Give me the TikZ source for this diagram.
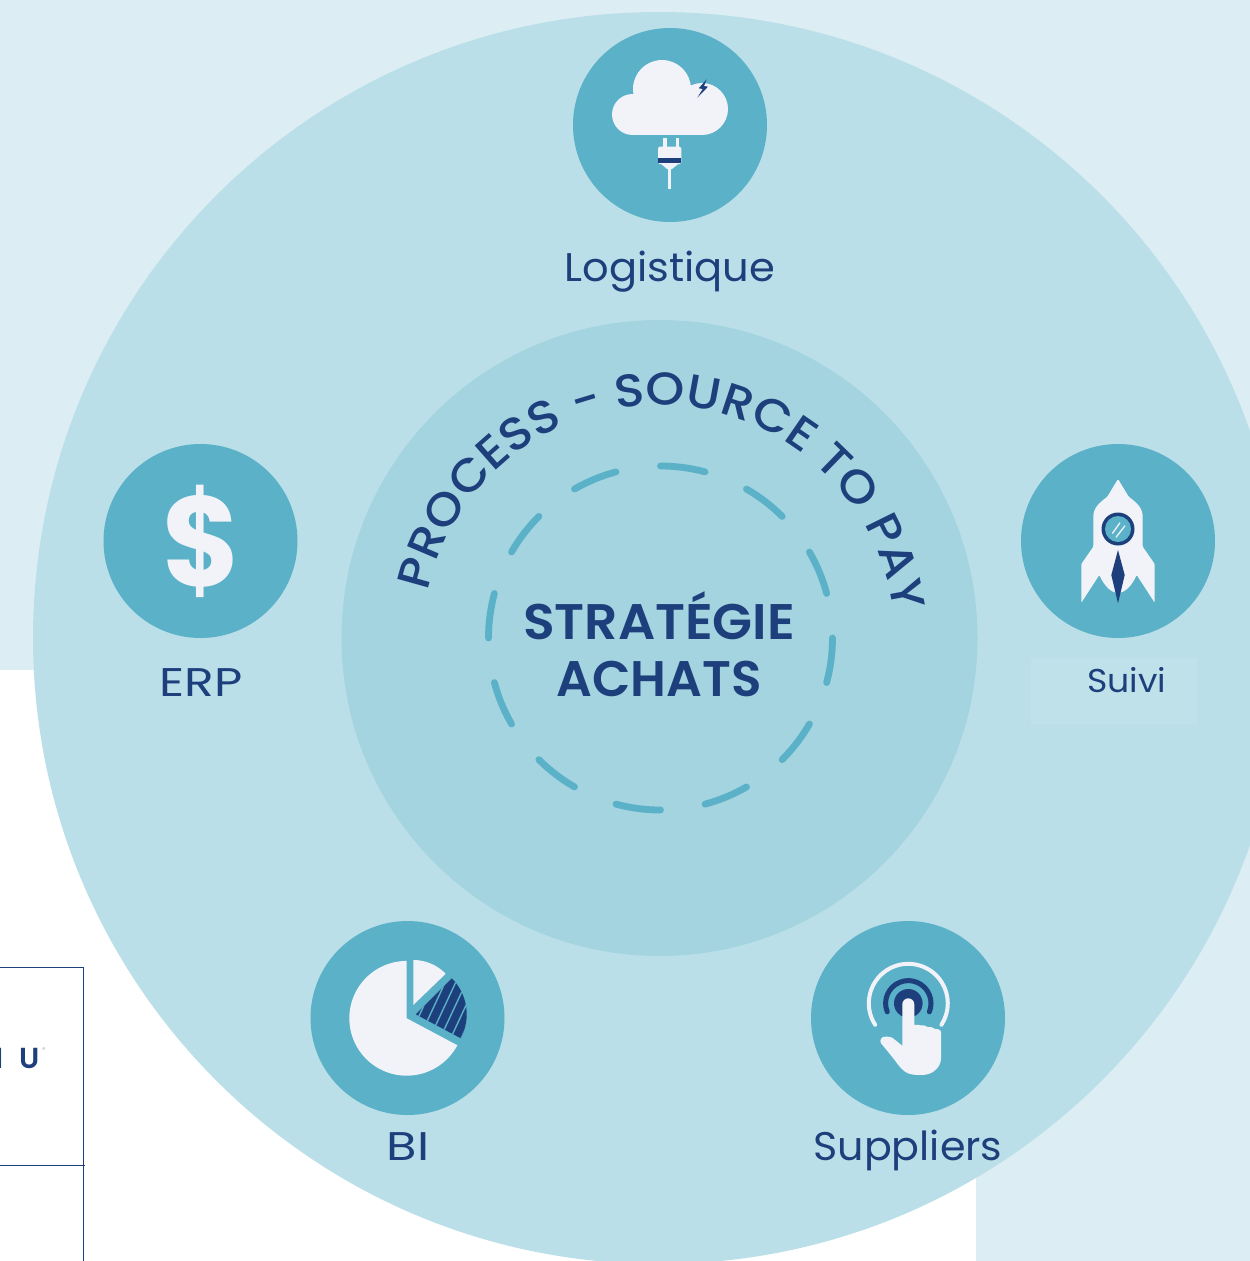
\documentclass[tikz,border=0pt]{standalone}
\usepackage{fontspec}
\usepackage{graphicx}
\setmainfont{Poppins}
\newfontfamily\semifont{Poppins SemiBold}
\newfontfamily\curvefont[FakeStretch=1.075]{Poppins Medium}
\usetikzlibrary{decorations.text}
\definecolor{bglight}{HTML}{DCEEF4}
\definecolor{ringout}{HTML}{BADFE8}
\definecolor{ringin}{HTML}{A3D4E0}
\definecolor{teal}{HTML}{5AB1C8}
\definecolor{navy}{HTML}{1D3F7C}
\definecolor{paper}{HTML}{F2F3F9}
\definecolor{suivibox}{HTML}{BFE2EA}
\tikzset{
  iconball/.style={circle,fill=teal,minimum size=194pt,inner sep=0pt},
  lbl/.style={text=navy,font=\fontsize{40}{44}\selectfont,inner sep=0pt,anchor=base},
  centre/.style={text=navy,font=\fontsize{50}{54}\selectfont\semifont,inner sep=0pt,anchor=base},
  whitefill/.style={fill=paper,draw=none},
  navyfill/.style={fill=navy,draw=none}
}
\begin{document}
\begin{tikzpicture}[x=1pt,y=-1pt]
\useasboundingbox (0,0) rectangle (1250,1261);
% background
\fill[bglight] (0,0) rectangle (1250,670);
\fill[bglight] (976,670) rectangle (1250,1261);
% left-hand frame
\draw[navy,line width=1.1pt] (0,967.5) -- (83.5,967.5);
\draw[navy,line width=1.1pt] (0,1165.5) -- (85,1165.5);
\draw[navy,line width=1.1pt] (83.5,967) -- (83.5,1261);
\node[anchor=base west,inner sep=0pt,text=navy,font=\fontsize{29}{32}\selectfont\semifont] (brand) at (-4.5,1068) {I\hspace{0.53em}U};
\node[anchor=center,inner sep=0pt,text=gray!60,font=\fontsize{7}{8}\selectfont] (reg) at (44,1050) {®};
% rings
\begin{scope}
\clip (0,0) rectangle (1250,1261);
\fill[ringout] (659,638) circle[radius=626];
\fill[ringin] (659.5,638) circle[radius=318];
\end{scope}
\fill[suivibox] (1031,658) rectangle (1197,724);
% dashes
\foreach \a in {0,30,...,330}
  \draw[teal,line width=6.8pt,line cap=round]
    ({660.5+172*cos(\a-90)},{638+172*sin(\a-90)})
    arc[start angle=\a-90,end angle=\a-75,radius=172];
% curved text
\path[decorate,decoration={text along path,text align=center,
   text={|\curvefont\fontsize{46}{50}\selectfont\color{navy}|PROCESS - SOURCE TO PAY}}]
   (659,641) ++(180:236) arc[start angle=180,end angle=365,radius=236];
% centre
\node[centre] (strat) at (659,639) {\scalebox{1.04}[1]{STRATÉGIE}};
\node[centre] (achats) at (659,696) {ACHATS};
% icon balls
\node[iconball] (log) at (670,125) {};
\node[iconball] (erp) at (200.5,541) {};
\node[iconball] (sui) at (1118,541) {};
\node[iconball] (bi) at (407.5,1018) {};
\node[iconball] (sup) at (908,1018) {};
% labels
\node[lbl] (logl) at (670,281) {\scalebox{1.04}[1]{Logistique}};
\node[lbl] (erpl) at (201,696) {\scalebox{1.22}[1]{ERP}};
\node[lbl,font=\fontsize{33}{38}\selectfont] (suil) at (1126.5,692) {\scalebox{1.05}[1]{Suivi}};
\node[lbl] (bil) at (408,1160) {\scalebox{1.24}[1]{BI}};
\node[lbl] (supl) at (908,1160) {\scalebox{1.03}[1]{Suppliers}};
% dollar
\node[text=paper,inner sep=0pt,font=\fontsize{128}{130}\selectfont\bfseries] (dollar) at (202,541) {\scalebox{0.93}[1]{\$}};
% cloud
\fill[whitefill] (662,89) circle[radius=29];
\fill[whitefill] (632.5,114.5) circle[radius=20.5];
\fill[whitefill] (702,109) circle[radius=26];
\fill[whitefill] (632.5,100) rectangle (702,135);
\fill[navyfill] (706.7,79.3)--(698.7,88.3)--(702.7,89)--(697.3,97.7)--(708,86.7)--(704,86)--cycle;
% plug
\fill[whitefill] (663.3,138) rectangle (666.7,148);
\fill[whitefill] (676,138) rectangle (678.7,148);
\fill[whitefill,rounded corners=1.5pt] (658,146.7) rectangle (681.3,164);
\fill[navyfill] (658,158.3) rectangle (681.3,162.7);
\fill[whitefill] (660,163)--(679.5,163)--(672,169)--(667,169)--cycle;
\fill[whitefill] (668,169) rectangle (671.3,189);
% rocket
\fill[whitefill,rounded corners=1pt]
  (1118,479) -- (1128.7,496.7) .. controls (1137,503) and (1142.7,508) .. (1142.7,518)
  -- (1142.7,546.7) -- (1154.7,564) -- (1154.7,602.7) -- (1136.7,575)
  .. controls (1132,585) and (1126,592) .. (1118,593)
  .. controls (1110,592) and (1104,585) .. (1099.3,575)
  -- (1081.3,602.7) -- (1081.3,564) -- (1093.3,546.7) -- (1093.3,518)
  .. controls (1093.3,508) and (1099,503) .. (1107.3,496.7) -- cycle;
\fill[navy] (1118,529) circle[radius=16.5];
\fill[teal] (1118,529) circle[radius=13];
\draw[paper,line width=1.3pt] (1112.3,533.5) -- (1120,522.7);
\draw[paper,line width=1.3pt] (1116,537.3) -- (1125,525.7);
\fill[navyfill] (1118,550)--(1124.7,575)--(1118,603.3)--(1111.3,575)--cycle;
% pie
\fill[whitefill] (406.7,1018.3) -- ++(28:57.4) arc[start angle=28,end angle=270,radius=57.4] -- cycle;
\fill[whitefill] (413.3,1005) -- ++(-90:45) arc[start angle=-90,end angle=-44,radius=45] -- cycle;
\begin{scope}
\clip (415.7,1014.3) -- ++(-45:51) arc[start angle=-45,end angle=28,radius=51] -- cycle;
\fill[navyfill] (410,970) rectangle (470,1045);
\foreach \k in {0,1,...,8}
  \draw[teal,line width=1.4pt] ({395+\k*10.5},1045) -- ++(-65:90);
\end{scope}
% hand
\draw[paper,line width=4pt,line cap=round] (908.3,1003.3) ++(147:39.5) arc[start angle=147,end angle=393,radius=39.5];
\draw[navy,line width=5pt,line cap=round] (908.3,1003.3) ++(158:22.7) arc[start angle=158,end angle=382,radius=22.7];
\fill[navyfill] (908.3,1003.3) circle[radius=14.3];
\fill[whitefill] (902.3,1004.3) arc[start angle=180,end angle=360,radius=6]
  -- (914.3,1025) .. controls (917,1024.5) and (919,1024.8) .. (920.7,1025.3)
  .. controls (923,1025) and (926,1025.5) .. (927.7,1027)
  .. controls (930,1026.5) and (933,1027) .. (934.3,1028.7)
  .. controls (937,1028.5) and (941,1029.5) .. (941,1032.3)
  -- (941,1058.3) .. controls (941,1064) and (938,1068.5) .. (933.3,1071.7)
  .. controls (929,1074.5) and (925,1075) .. (920,1075)
  .. controls (914,1075) and (909,1074.5) .. (905,1071.7)
  .. controls (900,1068) and (897,1063) .. (893.3,1058.3)
  .. controls (889,1053) and (885,1048) .. (881,1043.3)
  .. controls (879,1040) and (882,1036.5) .. (885,1036.7)
  .. controls (888,1036.7) and (890,1036.5) .. (892.3,1037.7)
  -- (902.3,1045.7) -- cycle;
\end{tikzpicture}
\end{document}
